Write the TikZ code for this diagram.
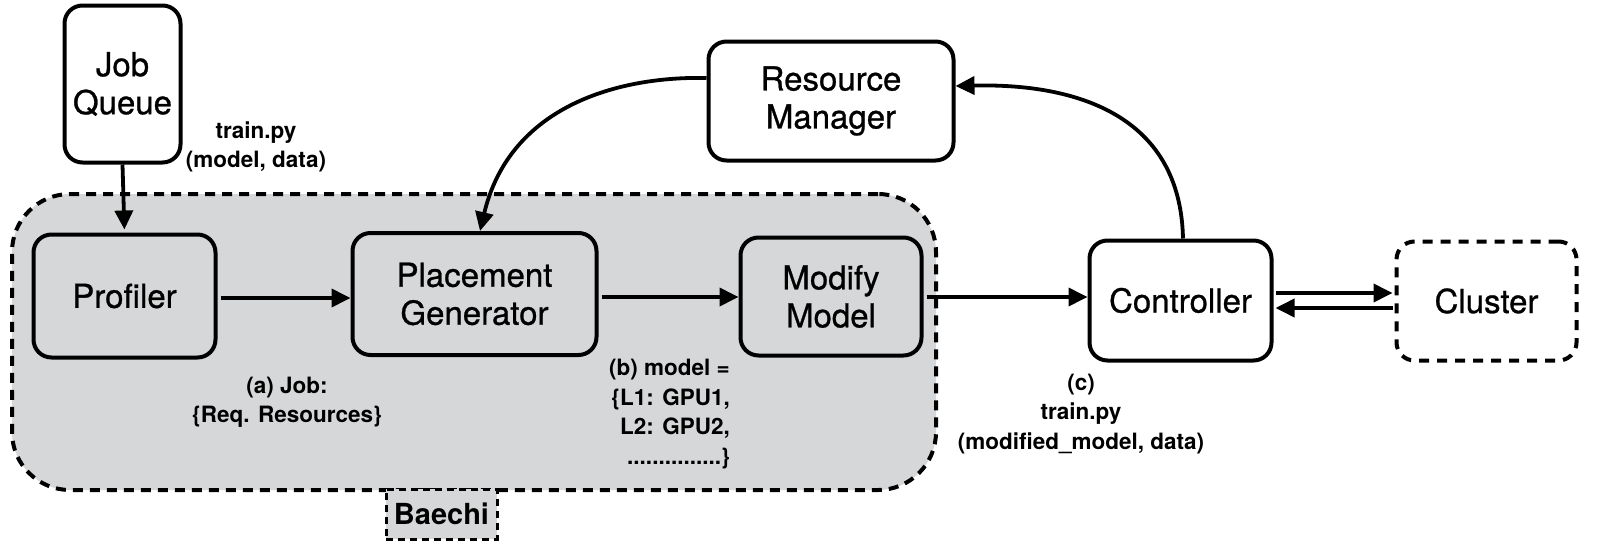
\documentclass[tikz,border=0pt]{standalone}
\usepackage{fontspec}
\setmainfont{TeX Gyre Heros}
\newfontfamily\boxfont[FakeBold=0.8]{TeX Gyre Heros}
\usetikzlibrary{arrows.meta,calc}
\definecolor{bgray}{HTML}{D6D7D9}
\begin{document}
\begin{tikzpicture}[x=1pt,y=-1pt,
  box/.style={draw, line width=4pt, rounded corners=18pt, align=center, inner sep=0pt, font=\boxfont\fontsize{33}{38}\selectfont},
  wbox/.style={box, fill=white},
  gbox/.style={box, fill=bgray},
  lbl/.style={align=center, font=\bfseries\fontsize{22.5}{29.5}\selectfont, inner sep=0pt},
  arr/.style={line width=3.8pt, -{Triangle[length=19pt,width=18pt]}},
  ]
\useasboundingbox (0,0) rectangle (1606,549);
% Baechi area
\node[draw, fill=bgray, line width=4pt, dash pattern=on 10pt off 7pt, rounded corners=58pt,
      minimum width=924pt, minimum height=296pt, inner sep=0pt] (area) at (474,342) {};
\node[draw, fill=bgray, line width=3pt, dash pattern=on 7pt off 5pt,
      minimum width=111pt, minimum height=50pt, inner sep=0pt,
      font=\bfseries\fontsize{29}{34}\selectfont] (baechi) at (441.5,514) {Baechi};
% boxes
\node[wbox, minimum width=116pt, minimum height=157pt] (jq) at (122.5,84) {Job\\Queue};
\node[gbox, minimum width=182pt, minimum height=123pt] (prof) at (124.5,296) {Profiler};
\node[gbox, minimum width=244pt, minimum height=122pt] (pg) at (474.5,294) {Placement\\Generator};
\node[gbox, minimum width=181pt, minimum height=118pt] (mm) at (831,296.5) {Modify\\Model};
\node[wbox, minimum width=182pt, minimum height=120pt] (ctrl) at (1180.5,300.5) {Controller};
\node[box, dash pattern=on 10pt off 8pt, fill=white, minimum width=180pt, minimum height=119pt] (cluster) at (1486.5,301) {Cluster};
\node[wbox, minimum width=245pt, minimum height=119pt] (rm) at (831,101) {Resource\\Manager};
% labels
\node[lbl] (l1) at (256,147) {train.py\\(model, data)};
\node[lbl] (l2) at (287,402) {(a) Job:\\\{Req. Resources\}};
\node[lbl, align=right, anchor=east] (l3) at (730,414) {(b) model =\\\{L1: GPU1,\\L2: GPU2,\\...............\}};
\node[lbl] (l4) at (1081,414) {(c)\\train.py\\(modified\_model, data)};
% connectors
\draw[arr, shorten >=3pt] (jq.south) -- (prof.north);
\draw[arr] ($(prof.east)+(3,2)$) -- ($(pg.west |- prof.east)+(0,2)$);
\draw[arr] ($(pg.east)+(3,3)$) -- ($(mm.west |- pg.east)+(0,3)$);
\draw[arr] ($(mm.east)+(3,0.5)$) -- ($(ctrl.west |- mm.east)+(0,0.5)$);
\draw[arr] ($(ctrl.east)+(2,-7.5)$) -- ($(cluster.west |- ctrl.east)+(-2,-7.5)$);
\draw[arr] ($(cluster.west |- ctrl.east)+(-2,7.5)$) -- ($(ctrl.east)+(2,7.5)$);
\draw[arr] ($(ctrl.north)+(2.5,0)$) .. controls (1180,95) and (1040,84) .. ($(rm.east)+(0,-15)$);
\draw[arr] ($(rm.west)+(0,-23)$) .. controls (620,76) and (510,105) .. ($(pg.north)+(5.5,0)$);
\end{tikzpicture}
\end{document}
